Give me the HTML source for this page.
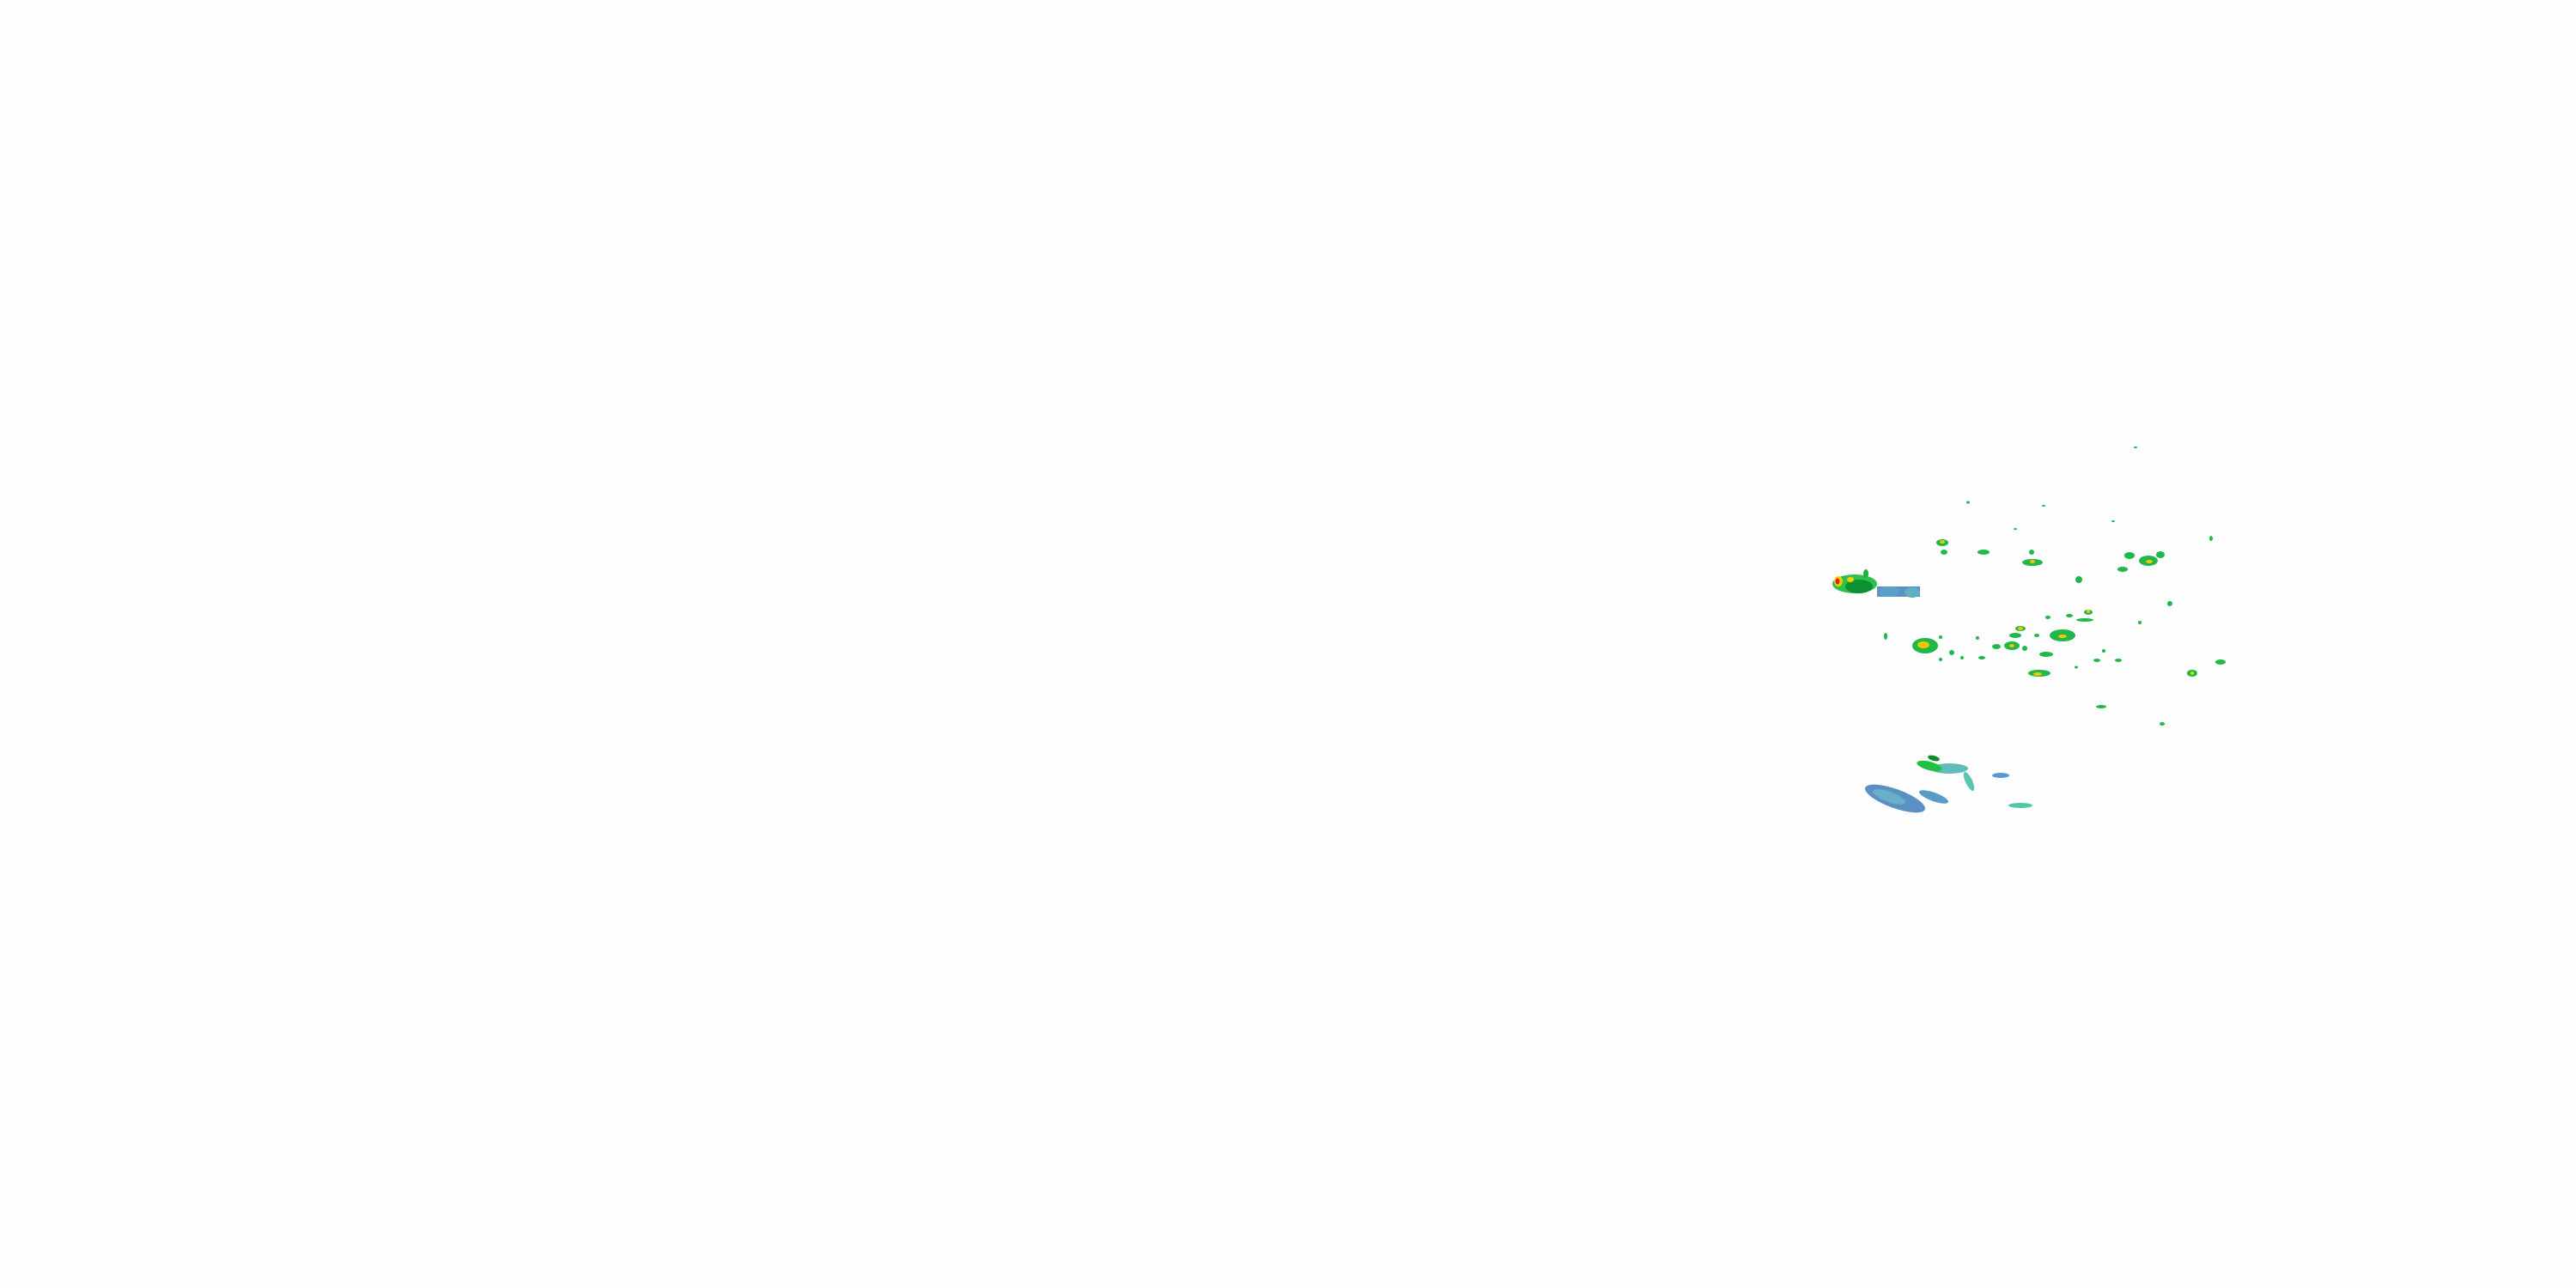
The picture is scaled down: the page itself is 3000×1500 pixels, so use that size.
<!DOCTYPE html>
<html><head><style>html,body{margin:0;padding:0;background:#fff;width:3000px;height:1500px;overflow:hidden}</style></head>
<body>
<svg width="3000" height="1500" viewBox="0 0 3000 1500" xmlns="http://www.w3.org/2000/svg">
<rect width="3000" height="1500" fill="#fefefe"/>
<rect x="2186" y="683" width="50" height="12" fill="#5b92c8"/>
<ellipse cx="2200" cy="689" rx="12" ry="6" fill="#5aa0c8"/>
<ellipse cx="2227" cy="690" rx="9" ry="6" fill="#60b0c0"/>
<ellipse cx="2160" cy="680" rx="26" ry="11" fill="#30c050"/>
<ellipse cx="2165" cy="683" rx="16" ry="8" fill="#0c9030"/>
<ellipse cx="2141" cy="677" rx="5" ry="6" fill="#f0d000"/>
<ellipse cx="2140" cy="677" rx="2.5" ry="3.5" fill="#e02020"/>
<ellipse cx="2155" cy="675" rx="4" ry="3" fill="#f0d000"/>
<ellipse cx="2173" cy="668" rx="3" ry="5" fill="#20b040"/>
<g fill="#20b848">
<ellipse cx="2242" cy="752" rx="15" ry="9"/>
<ellipse cx="2262" cy="632" rx="7" ry="4"/>
<ellipse cx="2264" cy="643" rx="4" ry="3"/>
<ellipse cx="2310" cy="643" rx="7" ry="3"/>
<ellipse cx="2366" cy="643" rx="3" ry="3"/>
<ellipse cx="2367" cy="655" rx="12" ry="4"/>
<ellipse cx="2292" cy="585" rx="2" ry="1.5"/>
<ellipse cx="2380" cy="589" rx="2" ry="1"/>
<ellipse cx="2461" cy="607" rx="2" ry="1"/>
<ellipse cx="2347" cy="616" rx="2" ry="1"/>
<ellipse cx="2480" cy="647" rx="6" ry="4"/>
<ellipse cx="2502" cy="653" rx="11" ry="6"/>
<ellipse cx="2516" cy="646" rx="5" ry="4"/>
<ellipse cx="2472" cy="663" rx="6" ry="3"/>
<ellipse cx="2421" cy="675" rx="4" ry="4"/>
<ellipse cx="2575" cy="627" rx="2" ry="3"/>
<ellipse cx="2487" cy="521" rx="2" ry="1"/>
<ellipse cx="2527" cy="703" rx="3" ry="3"/>
<ellipse cx="2432" cy="713" rx="5" ry="3"/>
<ellipse cx="2428" cy="722" rx="10" ry="2"/>
<ellipse cx="2410" cy="717" rx="4" ry="2"/>
<ellipse cx="2385" cy="719" rx="3" ry="2"/>
<ellipse cx="2353" cy="732" rx="6" ry="3"/>
<ellipse cx="2347" cy="740" rx="7" ry="3"/>
<ellipse cx="2402" cy="740" rx="15" ry="7"/>
<ellipse cx="2372" cy="740" rx="3" ry="2"/>
<ellipse cx="2343" cy="752" rx="9" ry="5"/>
<ellipse cx="2325" cy="753" rx="5" ry="3"/>
<ellipse cx="2358" cy="755" rx="3" ry="3"/>
<ellipse cx="2308" cy="766" rx="4" ry="2"/>
<ellipse cx="2273" cy="760" rx="3" ry="3"/>
<ellipse cx="2383" cy="762" rx="8" ry="3"/>
<ellipse cx="2375" cy="784" rx="13" ry="4"/>
<ellipse cx="2467" cy="769" rx="4" ry="2"/>
<ellipse cx="2442" cy="769" rx="4" ry="2"/>
<ellipse cx="2418" cy="777" rx="2" ry="1.5"/>
<ellipse cx="2450" cy="758" rx="2" ry="2"/>
<ellipse cx="2553" cy="784" rx="6" ry="4"/>
<ellipse cx="2586" cy="771" rx="6" ry="3"/>
<ellipse cx="2447" cy="823" rx="6" ry="2"/>
<ellipse cx="2518" cy="843" rx="3" ry="2"/>
<ellipse cx="2196" cy="741" rx="2" ry="4"/>
<ellipse cx="2492" cy="725" rx="2" ry="2"/>
<ellipse cx="2260" cy="742" rx="2" ry="2"/>
<ellipse cx="2303" cy="743" rx="2" ry="2"/>
<ellipse cx="2260" cy="768" rx="2" ry="2"/>
<ellipse cx="2285" cy="766" rx="2" ry="2"/>
</g>
<g fill="#f0c800">
<ellipse cx="2240" cy="751" rx="7" ry="4"/>
<ellipse cx="2262" cy="631" rx="3" ry="2"/>
<ellipse cx="2367" cy="654" rx="3" ry="2"/>
<ellipse cx="2503" cy="654" rx="4" ry="2"/>
<ellipse cx="2402" cy="741" rx="5" ry="2"/>
<ellipse cx="2353" cy="732" rx="3" ry="2"/>
<ellipse cx="2373" cy="785" rx="5" ry="2"/>
<ellipse cx="2343" cy="752" rx="3" ry="2"/>
<ellipse cx="2553" cy="784" rx="2" ry="2"/>
<ellipse cx="2432" cy="712" rx="2" ry="2"/>
</g>
<ellipse cx="2207" cy="930" rx="37" ry="11" fill="#5b90c4" transform="rotate(20 2207 930)"/>
<ellipse cx="2200" cy="928" rx="20" ry="6" fill="#6aaec8" transform="rotate(20 2200 928)"/>
<ellipse cx="2252" cy="928" rx="18" ry="5" fill="#5a9cc8" transform="rotate(20 2252 928)"/>
<ellipse cx="2270" cy="895" rx="22" ry="6" fill="#60bcb8"/>
<ellipse cx="2247" cy="892" rx="15" ry="5" fill="#20c040" transform="rotate(15 2247 892)"/>
<ellipse cx="2252" cy="883" rx="7" ry="3" fill="#0c8c28" transform="rotate(15 2252 883)"/>
<ellipse cx="2293" cy="910" rx="4" ry="12" fill="#5ac8b0" transform="rotate(-25 2293 910)"/>
<ellipse cx="2330" cy="903" rx="10" ry="3" fill="#5a98d0"/>
<ellipse cx="2353" cy="938" rx="14" ry="3" fill="#50c8a8"/>
</svg>
</body></html>
